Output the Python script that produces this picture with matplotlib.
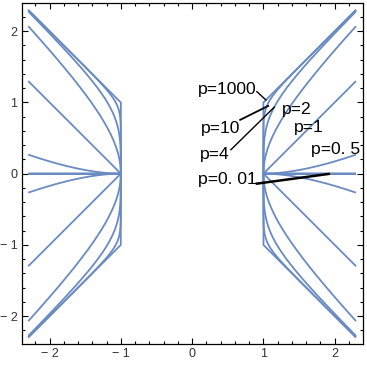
import numpy as np
import matplotlib
matplotlib.use("Agg")
import matplotlib.pyplot as plt
from matplotlib.ticker import MultipleLocator, FixedLocator

# Exponents of the curves |x|^p - |y|^p = 1
p_values = [0.01, 0.5, 1, 2, 4, 10, 1000]
x_range = 2.3

# Labels: text, text centre (data), optional pointer line start/end (data)
label_texts = ["p=1000", "p=2", "p=10", "p=4", "p=1", "p=0. 5", "p=0. 01"]
label_pos = [(0.487, 1.185), (1.47, 0.905), (0.403, 0.639), (0.319, 0.266),
             (1.639, 0.653), (2.018, 0.336), (0.50, -0.084)]
pointer_lines = [((0.909, 1.151), (1.035, 1.035)), None,
                 ((0.674, 0.755), (1.067, 0.951)),
                 ((0.544, 0.336), (1.152, 0.933)), None, None,
                 ((0.909, -0.14), (1.916, -0.004))]
pointer_widths = [1.0, 0, 1.3, 1.0, 0, 0, 1.8]

tick_vals = [-2, -1, 0, 1, 2]
tick_labels = ["\u2212 2", "\u2212 1", "0", "1", "2"]

color = "#6a8bc2"

fig = plt.figure(figsize=(3.67, 3.65), dpi=100)
ax = fig.add_axes([0.059, 0.0575, 0.929, 0.9335])


def quadrant_curve(p):
    # param by y
    ys = np.linspace(0, x_range, 3000)
    with np.errstate(divide="ignore"):
        lx = np.logaddexp(0, p * np.log(np.where(ys > 0, ys, 1e-300))) / p
    xs1 = np.exp(lx)
    m1 = xs1 <= x_range
    # param by x
    xs = np.linspace(1, x_range, 3000)
    lxs = np.log(xs)
    with np.errstate(divide="ignore", invalid="ignore"):
        ly = lxs + np.log1p(-np.exp(-p * lxs)) / p
    ys2 = np.exp(ly)
    ys2[0] = 0.0
    m2 = ys2 <= x_range
    X = np.concatenate([xs1[m1], xs[m2]])
    Y = np.concatenate([ys[m1], ys2[m2]])
    order = np.argsort(X + Y, kind="stable")
    return X[order], Y[order]


for p in p_values:
    X, Y = quadrant_curve(p)
    xx = np.concatenate([X[::-1], X])
    yy = np.concatenate([Y[::-1], -Y])
    ax.plot(xx, yy, color=color, lw=1.3, solid_capstyle="butt")
    ax.plot(-xx, yy, color=color, lw=1.3, solid_capstyle="butt")

for txt, pos, ln, w in zip(label_texts, label_pos, pointer_lines, pointer_widths):
    ax.text(pos[0], pos[1], txt, ha="center", va="center", fontsize=12.6,
            family="Liberation Sans", color="black")
    if ln is not None:
        ax.plot([ln[0][0], ln[1][0]], [ln[0][1], ln[1][1]], color="black", lw=w)

lim = 2.392
ax.set_xlim(-lim, lim)
ax.set_ylim(-lim, lim)
ax.xaxis.set_major_locator(FixedLocator(tick_vals))
ax.yaxis.set_major_locator(FixedLocator(tick_vals))
ax.set_xticklabels(tick_labels)
ax.set_yticklabels(tick_labels)
ax.xaxis.set_minor_locator(MultipleLocator(0.2))
ax.yaxis.set_minor_locator(MultipleLocator(0.2))
ax.tick_params(which="both", direction="in", top=True, right=True,
               labelsize=9, labelcolor="#333333", pad=3, width=0.8)
ax.tick_params(which="major", length=4)
ax.tick_params(which="minor", length=2.2)
for s in ax.spines.values():
    s.set_linewidth(0.9)
for lab in ax.get_xticklabels() + ax.get_yticklabels():
    lab.set_family("Liberation Sans")

fig.savefig("out.png", dpi=100)
